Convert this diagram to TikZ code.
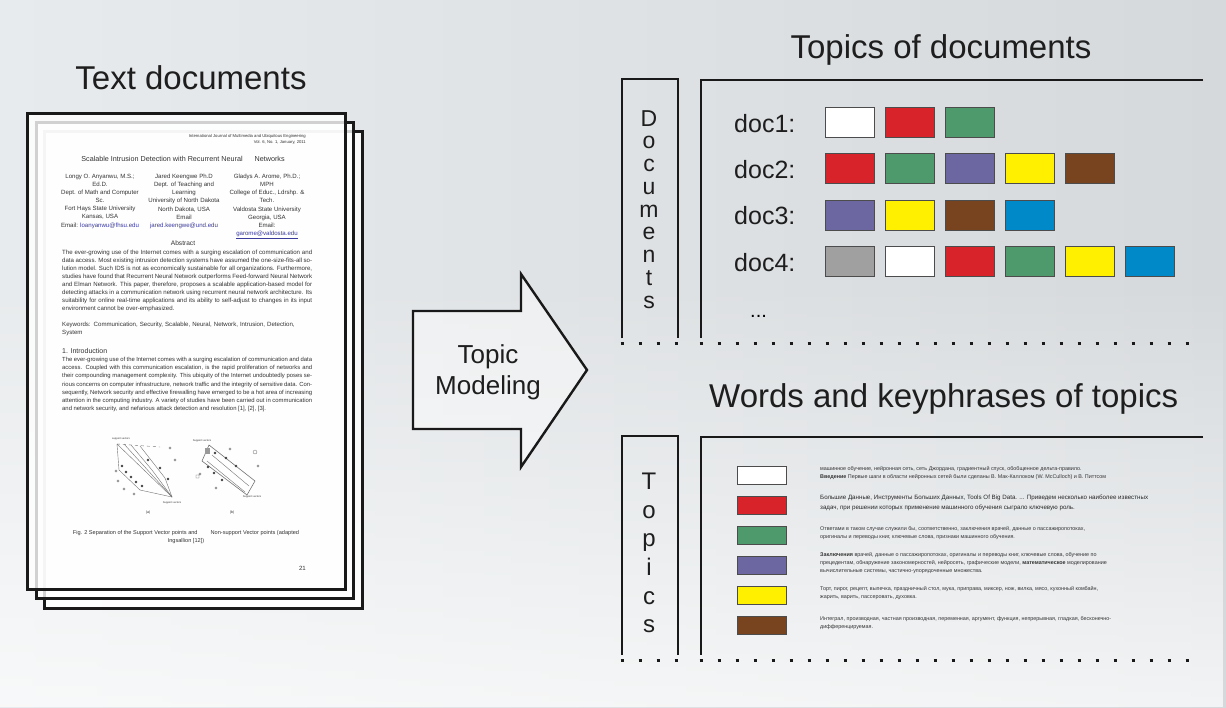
\documentclass[tikz,border=0pt]{standalone}
\usepackage{fontspec}
\setmainfont{Liberation Sans}
\usetikzlibrary{positioning,fadings}

\definecolor{tpred}{HTML}{D9232A}
\definecolor{tpgreen}{HTML}{4E9A6C}
\definecolor{tppurple}{HTML}{6D67A1}
\definecolor{tpyellow}{HTML}{FFF000}
\definecolor{tpbrown}{HTML}{77441F}
\definecolor{tpblue}{HTML}{0089C8}
\definecolor{tpgray}{HTML}{A0A0A0}
\definecolor{bgleft}{HTML}{E8EBED}
\definecolor{bgright}{HTML}{D5D9DC}
\definecolor{inkgray}{HTML}{1E1E1E}
\definecolor{maillink}{HTML}{3A3A9A}

\tikzfading[name=fadeup, top color=transparent!100, bottom color=transparent!0]

\begin{document}
\begin{tikzpicture}[x=1pt, y=-1pt,
    heading/.style={font=\fontsize{33}{40}\selectfont, text=inkgray, inner sep=0pt},
    letters/.style={align=center, inner sep=0pt, text=inkgray, anchor=north},
    doclabel/.style={font=\fontsize{25}{30}\selectfont, text=inkgray, inner sep=0pt, anchor=base west},
    page/.style={draw=black!90, line width=3pt, fill=white, fill opacity=0.8},
    frame/.style={draw=black!90, line width=2.8pt},
    dots/.style={draw=black!90, line width=3pt, dash pattern=on 3pt off 15pt},
    sq/.style={draw=black!70, line width=0.9pt, minimum width=49pt,
               minimum height=30pt, inner sep=0pt, outer sep=0pt},
    swatch/.style={sq, minimum height=18pt},
    kwtxt/.style={font=\fontsize{5.4}{8.4}\selectfont, align=left, inner sep=0pt,
                  text=black!80, anchor=west, yshift=2pt},
    pagetxt/.style={font=\fontsize{6.1}{8.1}\selectfont, inner sep=0pt, text=black!80},
    plotln/.style={draw=black!55, line width=0.4pt}
  ]
  \useasboundingbox (0,0) rectangle (1226,707);
  \shade[left color=bgleft, right color=bgright] (0,0) rectangle (1226,707);
  \fill[white, path fading=fadeup, fill opacity=0.7] (0,280) rectangle (1226,707);

  % stack of pages
  \draw[page] (44,131) rectangle +(318,477);
  \draw[page] (36,122) rectangle +(317,476);
  \draw[page] (27,113) rectangle +(318,476);

  \node[heading, anchor=base] (textdocs) at (191,89) {Text documents};

  % front page contents
  \node[pagetxt, font=\fontsize{4.2}{6.4}\selectfont, align=right, anchor=north east] (journal)
    at (306,134) {International Journal of Multimedia and Ubiquitous Engineering\\Vol. 6, No. 1, January, 2011};
  \node[pagetxt, font=\fontsize{7.2}{9}\selectfont, anchor=base] (ptitle) at (183,161)
    {Scalable Intrusion Detection with Recurrent Neural \hspace{8pt} Networks};
  \node[pagetxt, align=center, anchor=north] (auth1) at (100,174)
    {Longy O. Anyanwu, M.S.;\\Ed.D.\\Dept. of Math and Computer\\Sc.\\Fort Hays State University\\Kansas, USA\\Email: \textcolor{maillink}{loanyanwu@fhsu.edu}};
  \node[pagetxt, align=center, anchor=north] (auth2) at (184,174)
    {Jared Keengwe Ph.D\\Dept. of Teaching and\\Learning\\University of North Dakota\\North Dakota, USA\\Email\\\textcolor{maillink}{jared.keengwe@und.edu}};
  \node[pagetxt, align=center, anchor=north] (auth3) at (267,174)
    {Gladys A. Arome, Ph.D.;\\MPH\\College of Educ., Ldrshp. \&\\Tech.\\Valdosta State University\\Georgia, USA\\Email:\\\textcolor{maillink}{\underline{garome@valdosta.edu}}};
  \node[pagetxt, font=\fontsize{6.6}{8}\selectfont, anchor=base] (abshead) at (183,245) {Abstract};
  \node[pagetxt, text width=250pt, align=justify, anchor=north west] (abstract) at (62,249.5)
    {The ever-growing use of the Internet comes with a surging escalation of communication and
     data access. Most existing intrusion detection systems have assumed the one-size-fits-all
     solution model. Such IDS is not as economically sustainable for all organizations.
     Furthermore, studies have found that Recurrent Neural Network outperforms Feed-forward
     Neural Network and Elman Network. This paper, therefore, proposes a scalable
     application-based model for detecting attacks in a communication network using recurrent
     neural network architecture. Its suitability for online real-time applications and its
     ability to self-adjust to changes in its input environment cannot be over-emphasized.};
  \node[pagetxt, text width=250pt, align=left, anchor=north west] (keywords) at (62,322)
    {Keywords: Communication, Security, Scalable, Neural, Network, Intrusion, Detection,\\System};
  \node[pagetxt, font=\fontsize{7}{8}\selectfont, anchor=base west] (introhead) at (62,353) {1. Introduction};
  \node[pagetxt, font=\fontsize{5.9}{8.2}\selectfont, text width=250pt, align=justify, anchor=north west] (intro) at (62,357)
    {The ever-growing use of the Internet comes with a surging escalation of communication and
     data access. Coupled with this communication escalation, is the rapid proliferation of
     networks and their compounding management complexity. This ubiquity of the Internet
     undoubtedly poses serious concerns on computer infrastructure, network traffic and the
     integrity of sensitive data. Consequently, Network security and effective firewalling have
     emerged to be a hot area of increasing attention in the computing industry. A variety of
     studies have been carried out in communication and network security, and nefarious attack
     detection and resolution [1], [2], [3].};

  % small figure (a)
  \draw[plotln, dashed] (117,444) -- (160,447);
  \draw[plotln] (117,444) -- (172,497);
  \draw[plotln] (124,444) -- (172,497);
  \draw[plotln] (131,445) -- (152,470) -- (172,497);
  \draw[plotln] (140,446) -- (165,478) -- (172,497);
  \draw[plotln] (117,444) -- (119,470) -- (140,490) -- (172,497);
  \fill[black!75] (122,466) circle (1.3pt) (126,472) circle (1.3pt) (131,477) circle (1.3pt)
    (136,482) circle (1.3pt) (142,486) circle (1.3pt) (148,460) circle (1.3pt)
    (160,468) circle (1.3pt) (168,479) circle (1.3pt);
  \draw[black!60, line width=0.3pt] (116,471) circle (1.2pt) (118,481) circle (1.2pt)
    (124,489) circle (1.2pt) (134,494) circle (1.2pt) (175,460) circle (1.2pt) (170,448) circle (1.2pt);
  \node[pagetxt, font=\fontsize{2.6}{3}\selectfont] (suppa) at (121,439) {support vectors};
  \node[pagetxt, font=\fontsize{2.6}{3}\selectfont] (suppb) at (172,503) {Support vectors};
  \node[pagetxt, font=\fontsize{3.6}{4}\selectfont] (figa) at (148,513) {(a)};
  % small figure (b)
  \draw[plotln, line width=0.6pt] (209,445) -- (255,481) -- (247,495) -- (202,461) -- cycle;
  \draw[plotln] (212,455) -- (249,486);
  \draw[plotln] (207,461) -- (245,492);
  \fill[black!75] (215,453) circle (1.3pt) (226,458) circle (1.3pt) (236,466) circle (1.3pt)
    (208,467) circle (1.3pt) (214,473) circle (1.3pt) (222,480) circle (1.3pt);
  \fill[black!40] (205,448) rectangle +(5,6);
  \draw[black!60, line width=0.3pt] (255,452) circle (2pt) (230,449) circle (1.2pt)
    (258,466) circle (1.2pt) (200,474) circle (1.2pt) (216,488) circle (1.2pt) (196,475) rectangle +(3,3);
  \node[pagetxt, font=\fontsize{2.6}{3}\selectfont] (suppc) at (202,441) {Support vectors};
  \node[pagetxt, font=\fontsize{2.6}{3}\selectfont] (suppd) at (252,497) {Support vectors};
  \node[pagetxt, font=\fontsize{3.6}{4}\selectfont] (figb) at (232,513) {(b)};

  \node[pagetxt, font=\fontsize{5.6}{8.5}\selectfont, align=center, anchor=north] (caption) at (186,530)
    {Fig. 2 Separation of the Support Vector points and \hspace{10pt} Non-support Vector points (adapted\\Ingsallion [12])};
  \node[pagetxt, anchor=base east] (pageno) at (306,570) {21};

  % block arrow
  \draw[line width=2.4pt, line join=miter, draw=black!90, fill=white, fill opacity=0.45]
    (413,311) -- (521,311) -- (521,274) -- (587,370) -- (521,467) -- (521,429) -- (413,429) -- cycle;
  \node[font=\fontsize{26}{31}\selectfont, align=center, text=inkgray, inner sep=0pt] (model)
    at (488,372) {Topic\\Modeling};

  % topics of documents
  \node[heading, anchor=base] (topdocs) at (941,58) {Topics of documents};
  \draw[frame] (622,338) -- (622,79) -- (678,79) -- (678,338);
  \draw[dots] (620.5,343) -- (682,343);
  \node[letters, font=\fontsize{23}{22.75}\selectfont] (doccol) at (649,110)
    {D\\o\\c\\u\\m\\e\\n\\t\\s};
  \draw[frame] (1203,80) -- (701,80) -- (701,338);
  \draw[dots] (699.5,343) -- (1192,343);

  \node[doclabel] (doc1) at (734,132) {doc1:};
  \node[doclabel] (doc2) at (734,178) {doc2:};
  \node[doclabel] (doc3) at (734,224) {doc3:};
  \node[doclabel] (doc4) at (734,271) {doc4:};
  \node[font=\fontsize{20}{24}\selectfont, inner sep=0pt, anchor=base west] (more) at (750,317) {...};

  \node[sq, fill=white, anchor=north west] (d1a) at (825,107) {};
  \node[sq, fill=tpred, right=11pt of d1a] (d1b) {};
  \node[sq, fill=tpgreen, right=11pt of d1b] (d1c) {};

  \node[sq, fill=tpred, anchor=north west] (d2a) at (825,153.5) {};
  \node[sq, fill=tpgreen, right=11pt of d2a] (d2b) {};
  \node[sq, fill=tppurple, right=11pt of d2b] (d2c) {};
  \node[sq, fill=tpyellow, right=11pt of d2c] (d2d) {};
  \node[sq, fill=tpbrown, right=11pt of d2d] (d2e) {};

  \node[sq, fill=tppurple, anchor=north west] (d3a) at (825,200) {};
  \node[sq, fill=tpyellow, right=11pt of d3a] (d3b) {};
  \node[sq, fill=tpbrown, right=11pt of d3b] (d3c) {};
  \node[sq, fill=tpblue, right=11pt of d3c] (d3d) {};

  \node[sq, fill=tpgray, anchor=north west] (d4a) at (825,246.5) {};
  \node[sq, fill=white, right=11pt of d4a] (d4b) {};
  \node[sq, fill=tpred, right=11pt of d4b] (d4c) {};
  \node[sq, fill=tpgreen, right=11pt of d4c] (d4d) {};
  \node[sq, fill=tpyellow, right=11pt of d4d] (d4e) {};
  \node[sq, fill=tpblue, right=11pt of d4e] (d4f) {};

  % words and keyphrases of topics
  \node[heading, anchor=base west] (topwords) at (709,407) {Words and keyphrases of topics};
  \draw[frame] (622,655) -- (622,436) -- (678,436) -- (678,655);
  \draw[dots] (620.5,660) -- (682,660);
  \node[letters, font=\fontsize{24}{28.6}\selectfont] (topcol) at (649,473)
    {T\\o\\p\\i\\c\\s};
  \draw[frame] (1203,437) -- (701,437) -- (701,655);
  \draw[dots] (699.5,660) -- (1192,660);

  \node[swatch, fill=white, anchor=north west] (sw1) at (737,466) {};
  \node[swatch, fill=tpred, below=12pt of sw1] (sw2) {};
  \node[swatch, fill=tpgreen, below=12pt of sw2] (sw3) {};
  \node[swatch, fill=tppurple, below=12pt of sw3] (sw4) {};
  \node[swatch, fill=tpyellow, below=12pt of sw4] (sw5) {};
  \node[swatch, fill=tpbrown, below=12pt of sw5] (sw6) {};

  \node[kwtxt, right=34pt of sw1] (kw1)
    {машинное обучение, нейронная сеть, сеть Джордана, градиентный спуск, обобщенное дельта-правило.\\
     \textbf{Введение} Первые шаги в области нейронных сетей были сделаны В. Мак-Каллоком (W. McCulloch) и В. Питтсом};
  \node[kwtxt, font=\fontsize{6.2}{10}\selectfont, text=black!85, right=34pt of sw2] (kw2)
    {Большие Данные, Инструменты Больших Данных, Tools Of Big Data. ... Приведем несколько наиболее известных\\
     задач, при решении которых применение машинного обучения сыграло ключевую роль.};
  \node[kwtxt, right=34pt of sw3] (kw3)
    {Ответами в таком случае служили бы, соответственно, заключения врачей, данные о пассажиропотоках,\\
     оригиналы и переводы книг, ключевые слова, признаки машинного обучения.};
  \node[kwtxt, right=34pt of sw4] (kw4)
    {\textbf{Заключения} врачей, данные о пассажиропотоках, оригиналы и переводы книг, ключевые слова, обучение по\\
     прецедентам, обнаружение закономерностей, нейросеть, графические модели, \textbf{математическое} моделирование\\
     вычислительные системы, частично-упорядоченные множества.};
  \node[kwtxt, right=34pt of sw5] (kw5)
    {Торт, пирог, рецепт, выпечка, праздничный стол, мука, приправа, миксер, нож, вилка, мясо, кухонный комбайн,\\
     жарить, варить, пассеровать, духовка.};
  \node[kwtxt, right=34pt of sw6] (kw6)
    {Интеграл, производная, частная производная, переменная, аргумент, функция, непрерывная, гладкая, бесконечно-\\
     дифференцируемая.};
\end{tikzpicture}
\end{document}
